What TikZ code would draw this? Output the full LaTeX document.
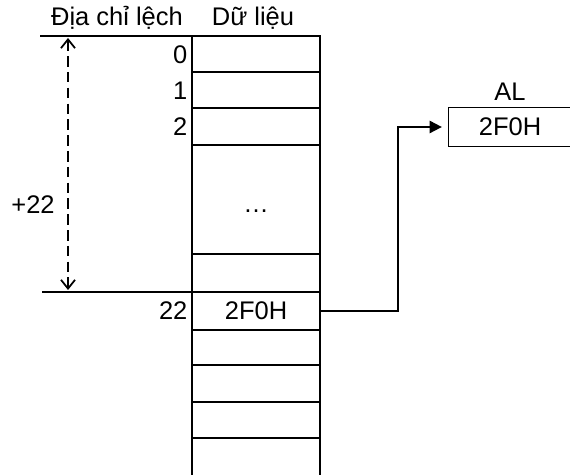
\documentclass[tikz,border=0pt]{standalone}
\usepackage{fontspec}
\setmainfont{Liberation Sans}
\usetikzlibrary{arrows.meta,positioning}
\tikzset{every picture/.style={line width=0.75pt}}

\begin{document}
\begin{tikzpicture}[x=0.02cm, y=-0.02cm, font=\fontsize{14.5}{17}\selectfont,
    rowline/.style={line width=0.6pt},
    colline/.style={line width=1.1pt},
    cellbox/.style={minimum width=2.56cm, minimum height=0.76cm, inner sep=0pt},
    idx/.style={anchor=east, inner sep=0pt}]
    \useasboundingbox (0,0) rectangle (570,475);

    % tiêu đề
    \node (hdrofs) at (117,18) {Địa chỉ lệch};
    \node (hdrdata) at (253,18) {Dữ liệu};

    % cột bộ nhớ
    \draw[colline] (192,475) -- (192,36) -- (320,36) -- (320,475);
    \foreach \y in {72,108,145,254,330,365,402,438}
        \draw[rowline] (192,\y) -- (320,\y);

    % đường gốc và đường lệch
    \draw[rowline] (40,36) -- (192,36);
    \draw[colline] (42,292) -- (320,292);

    % chỉ số
    \node[idx] (i0) at (188,55) {0};
    \node[idx] (i1) at (188,91) {1};
    \node[idx] (i2) at (188,127) {2};
    \node[idx] (i22) at (188,311) {22};

    % ô dữ liệu
    \node (dots) at (256,211) {\dots};
    \node[cellbox] (cell22) at (256,311) {2F0H};

    % khoảng lệch +22
    \coordinate (ofstop) at (68,38);
    \coordinate (ofsbot) at (68,290);
    \draw[line width=1pt, dashed, dash pattern=on 6pt off 3pt,
          {Straight Barb[length=5pt,width=8pt]}-{Straight Barb[length=5pt,width=8pt]}]
          (ofstop) -- (ofsbot);
    \node (ofs) at (33,205) {+22};

    % thanh ghi AL
    \node[cellbox, minimum width=2.42cm] (al) at (510,127) {2F0H};
    \draw[rowline] (al.north east) -- (al.north west) -- (al.south west) -- (al.south east);
    \node[above=0pt of al] (allbl) {AL};

    % mũi tên nạp
    \draw[colline, -{Triangle[length=7pt,width=7pt]}, shorten >=0.14cm]
          (cell22.east) -- ++(77,0) |- (al.west);
\end{tikzpicture}
\end{document}
